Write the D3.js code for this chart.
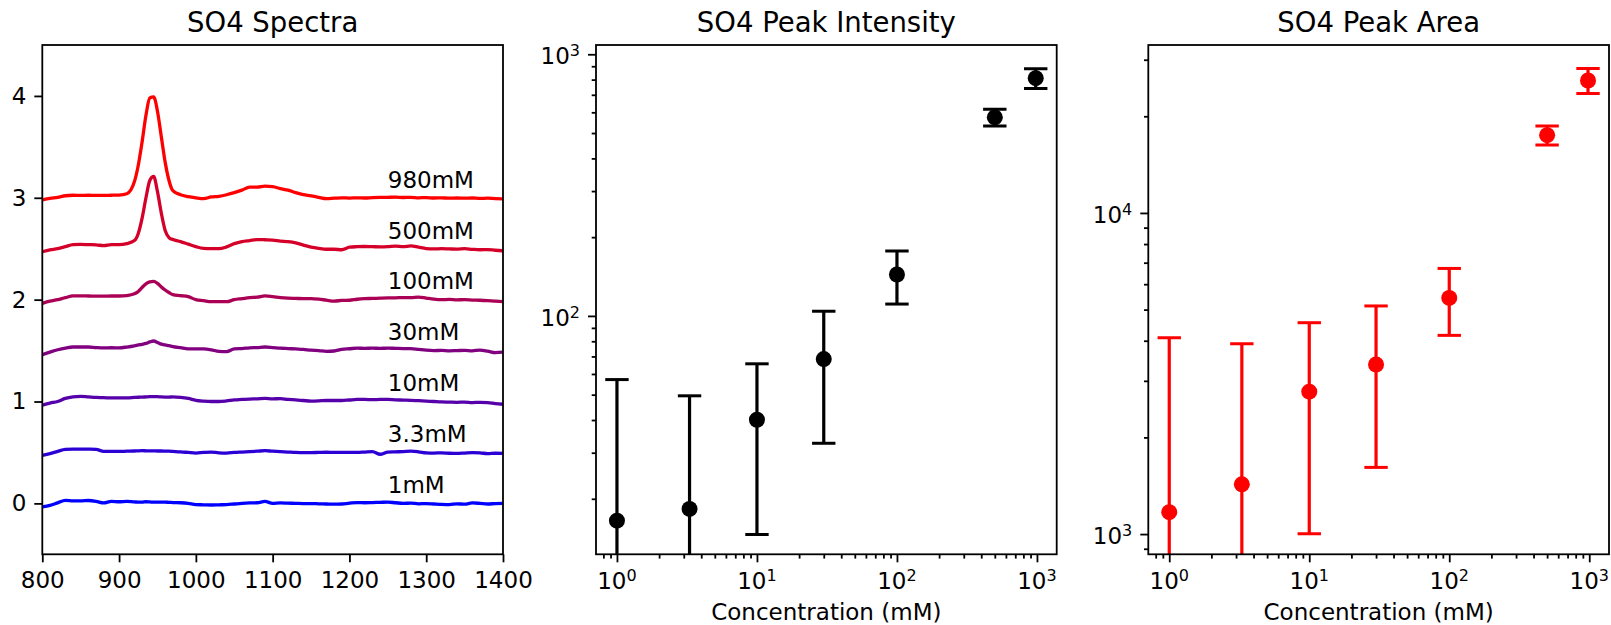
<!DOCTYPE html>
<html>
<head>
<meta charset="utf-8">
<script src="https://cdn.jsdelivr.net/npm/d3@7"></script>
<style>
  body { margin: 0; background: #fff; }
  text { font-family: "DejaVu Sans", sans-serif; fill: #000; }
</style>
</head>
<body>
<script>

// ---- data ----
var wavenumbers = [
  800, 810, 820, 830, 840, 850, 860, 870, 880, 890, 900, 910,
  920, 925, 930, 935, 940, 945, 950, 955, 960, 965, 970,
  980, 990, 1000, 1010, 1020, 1030, 1040, 1050, 1060, 1070, 1080, 1090, 1100, 1110, 1120, 1130, 1140, 1150, 1160, 1170, 1180, 1190,
  1200, 1210, 1220, 1230, 1240, 1250, 1260, 1270, 1280, 1290, 1300, 1310, 1320, 1330, 1340, 1350, 1360, 1370, 1380, 1390, 1400
];

var specLabels = ['1mM', '3.3mM', '10mM', '30mM', '100mM', '500mM', '980mM'];
var specOffsets = [0, 0.5, 1, 1.5, 2, 2.5, 3];

var spec1mM = [
  -0.035, -0.02, 0.005, 0.03, 0.025, 0.024, 0.028, 0.02, 0.004, 0.02, 0.016, 0.02,
  0.014, 0.012, 0.012, 0.016, 0.014, 0.012, 0.012, 0.012, 0.012, 0.01, 0.008,
  0.006, 0.0, -0.012, -0.014, -0.016, -0.014, -0.012, -0.006, 0.0, 0.004, 0.006, 0.02, 0.0, 0.004, 0.002, 0.0, -0.002, -0.002, -0.004, -0.006, -0.008, -0.006,
  0.002, 0.008, 0.006, 0.008, 0.01, 0.012, 0.006, 0.0, 0.002, -0.004, -0.002, -0.006, -0.01, -0.012, -0.004, -0.008, 0.004, 0.0, -0.006, -0.002, 0.0
];
var spec3p3mM = [
  -0.03, -0.012, 0.01, 0.03, 0.033, 0.033, 0.032, 0.03, 0.01, 0.01, 0.01, 0.012,
  0.014, 0.016, 0.017, 0.016, 0.015, 0.015, 0.014, 0.014, 0.013, 0.012, 0.01,
  0.006, 0.0, -0.006, 0.0, 0.004, -0.004, -0.006, 0.0, 0.004, 0.008, 0.012, 0.017, 0.012, 0.008, 0.004, 0.0, -0.002, -0.002, 0.0, 0.002, 0.0, 0.001,
  0.0, 0.0, 0.004, 0.008, -0.018, 0.004, 0.006, 0.008, 0.012, 0.006, -0.004, -0.006, -0.004, -0.008, -0.01, -0.006, -0.002, -0.004, -0.012, -0.008, -0.01
];
var spec10mM = [
  -0.035, -0.015, 0.0, 0.03, 0.045, 0.05, 0.045, 0.04, 0.038, 0.035, 0.035, 0.036,
  0.04, 0.042, 0.043, 0.045, 0.047, 0.047, 0.047, 0.045, 0.044, 0.044, 0.045,
  0.04, 0.03, 0.012, 0.004, 0.0, 0.0, 0.006, 0.016, 0.02, 0.024, 0.026, 0.03, 0.026, 0.028, 0.02, 0.016, 0.01, 0.004, 0.006, 0.01, 0.01, 0.01,
  0.015, 0.02, 0.02, 0.018, 0.02, 0.02, 0.016, 0.014, 0.012, 0.008, 0.004, 0.0, -0.004, -0.006, -0.008, -0.006, -0.01, -0.008, -0.01, -0.02, -0.027
];
var spec30mM = [
  -0.04, -0.015, 0.008, 0.025, 0.035, 0.035, 0.035, 0.03, 0.027, 0.028, 0.027, 0.035,
  0.047, 0.055, 0.062, 0.07, 0.085, 0.094, 0.08, 0.063, 0.055, 0.048, 0.04,
  0.028, 0.016, 0.016, 0.016, 0.008, -0.008, -0.01, 0.016, 0.02, 0.027, 0.03, 0.035, 0.03, 0.024, 0.02, 0.016, 0.012, 0.004, 0.0, -0.008, -0.004, 0.012,
  0.018, 0.024, 0.022, 0.024, 0.022, 0.024, 0.022, 0.02, 0.02, 0.012, 0.004, 0.0, 0.002, -0.002, 0.0, 0.002, -0.002, 0.004, -0.006, -0.02, -0.016
];
var spec100mM = [
  -0.037, -0.015, 0.0, 0.02, 0.037, 0.037, 0.036, 0.035, 0.034, 0.036, 0.036, 0.04,
  0.057, 0.08, 0.12, 0.155, 0.175, 0.18, 0.16, 0.125, 0.095, 0.07, 0.05,
  0.04, 0.03, 0.0, -0.01, -0.02, -0.02, -0.02, 0.0, 0.01, 0.02, 0.025, 0.037, 0.03, 0.02, 0.014, 0.012, 0.01, 0.01, 0.005, -0.005, -0.014, -0.008,
  -0.006, 0.004, 0.01, 0.012, 0.015, 0.017, 0.018, 0.02, 0.02, 0.025, 0.015, 0.005, 0.0, 0.002, -0.002, 0.0, -0.004, -0.006, -0.01, -0.015, -0.02
];
var spec500mM = [
  -0.03, -0.012, 0.0, 0.02, 0.04, 0.042, 0.04, 0.038, 0.03, 0.04, 0.04, 0.05,
  0.08, 0.15, 0.30, 0.50, 0.67, 0.71, 0.56, 0.35, 0.18, 0.11, 0.09,
  0.07, 0.045, 0.02, 0.003, 0.0, 0.0, 0.018, 0.05, 0.07, 0.08, 0.09, 0.088, 0.085, 0.075, 0.07, 0.058, 0.035, 0.015, 0.003, -0.005, -0.005, -0.01,
  0.015, 0.02, 0.022, 0.02, 0.018, 0.02, 0.025, 0.02, 0.028, 0.015, 0.002, -0.002, 0.0, -0.002, -0.004, 0.0, -0.006, -0.01, -0.008, -0.015, -0.02
];
var spec980mM = [
  -0.02, -0.005, 0.005, 0.02, 0.025, 0.024, 0.025, 0.023, 0.024, 0.025, 0.027, 0.04,
  0.16, 0.32, 0.55, 0.81, 0.98, 0.99, 0.85, 0.60, 0.35, 0.17, 0.07,
  0.03, 0.012, 0.0, -0.008, 0.008, 0.015, 0.03, 0.05, 0.075, 0.105, 0.105, 0.115, 0.11, 0.09, 0.075, 0.05, 0.03, 0.02, 0.005, -0.008, -0.004, 0.0,
  -0.003, 0.0, -0.002, 0.002, 0.004, 0.005, 0.006, 0.003, 0.004, 0.0, 0.002, -0.002, 0.0, -0.004, -0.002, -0.004, -0.002, -0.006, -0.004, -0.008, -0.01
];
var spectra = [spec1mM, spec3p3mM, spec10mM, spec30mM, spec100mM, spec500mM, spec980mM];

var concentrations = [1, 3.3, 10, 30, 100, 500, 980];
var peakIntensity = [16.5, 18.3, 40.1, 68.4, 144, 574, 810];
var peakIntensityErr = [40.6, 31.2, 25.5, 35.8, 33, 42, 70];
var peakArea = [1170, 1429, 2777, 3373, 5437, 17470, 25850];
var peakAreaErr = [2914, 2484, 1775, 1760, 1280, 1180, 2300];

var specXTicks = [800, 900, 1000, 1100, 1200, 1300, 1400];
var specYTicks = [0, 1, 2, 3, 4];
var titles = ['SO4 Spectra', 'SO4 Peak Intensity', 'SO4 Peak Area'];
var xLabel = 'Concentration (mM)';

// ---- layout ----
var svgWidth = 1611, svgHeight = 625;
var plotTop = 45, plotW = 460.7, plotH = 509.3;
var panelLeft = [42.3, 596, 1148.3];
var tickLen = 8, minorLen = 4.3, spineW = 1.8;

var svg = d3.select('body').append('svg')
  .attr('width', svgWidth)
  .attr('height', svgHeight)

svg.append('rect').attr('width', svgWidth).attr('height', svgHeight).attr('fill', 'white')

function makePanel(i) {
  var g = svg.append('g').attr('transform', `translate(${panelLeft[i]},${plotTop})`)
  g.append('clipPath').attr('id', 'clip' + i)
    .append('rect').attr('width', plotW).attr('height', plotH)
  svg.append('text')
    .attr('x', panelLeft[i] + plotW / 2)
    .attr('y', 31.5)
    .attr('text-anchor', 'middle')
    .style('font-size', '27.5px')
    .text(titles[i])
  return g;
}

function styleAxis(ax) {
  ax.select('.domain').remove()
  ax.selectAll('line').attr('stroke', '#000').attr('stroke-width', spineW)
  ax.selectAll('text').style('font-size', '23px').attr('fill', '#000')
    .style('font-family', '"DejaVu Sans", sans-serif')
}

function frame(g) {
  g.append('rect').attr('width', plotW).attr('height', plotH)
    .attr('fill', 'none').attr('stroke', '#000').attr('stroke-width', spineW)
}

function specColor(i) {
  var t = i / (spectra.length - 1);
  return d3.rgb(Math.round(255 * t), 0, Math.round(255 * (1 - t)));
}

// ---- panel 1: stacked spectra ----
var g1 = makePanel(0);
var xSpec = d3.scaleLinear().domain([800, 1400]).range([0, plotW]);
var ySpec = d3.scaleLinear().domain([-0.5, 4.5]).range([plotH, 0]);

var lines = g1.append('g').attr('clip-path', 'url(#clip0)')
spectra.forEach(function(s, k) {
  var line = d3.line()
    .x((d, i) => xSpec(wavenumbers[i]))
    .y(d => ySpec(d + specOffsets[k]))
    .curve(d3.curveMonotoneX)
  lines.append('path')
    .datum(s)
    .attr('d', line)
    .attr('fill', 'none')
    .attr('stroke', specColor(k))
    .attr('stroke-width', 3.3)
    .attr('stroke-linejoin', 'round')
})

g1.selectAll('.speclabel').data(specLabels).enter().append('text')
  .attr('class', 'speclabel')
  .attr('x', xSpec(1250))
  .attr('y', (d, i) => ySpec(specOffsets[i] + 0.1))
  .style('font-size', '23px')
  .text(d => d)

var ax1y = g1.append('g').call(d3.axisLeft(ySpec).tickValues(specYTicks).tickSize(tickLen).tickPadding(8).tickFormat(d3.format('d')))
styleAxis(ax1y)
var ax1x = g1.append('g').attr('transform', `translate(0,${plotH})`)
  .call(d3.axisBottom(xSpec).tickValues(specXTicks).tickSize(tickLen).tickPadding(9.5).tickFormat(d3.format('d')))
styleAxis(ax1x)
frame(g1)

// ---- log panels ----
function isDecade(v) {
  var l = Math.log10(v);
  return Math.abs(l - Math.round(l)) < 1e-6;
}

function logPanel(i, yDomain, values, errs, color) {
  var g = makePanel(i);
  var x = d3.scaleLog().domain([0.7085, 1383.7]).range([0, plotW]);
  var y = d3.scaleLog().domain(yDomain).range([plotH, 0]);

  var marks = g.append('g').attr('clip-path', `url(#clip${i})`)
  var capW = 11.7;
  concentrations.forEach(function(c, k) {
    var hi = values[k] + errs[k], lo = values[k] - errs[k];
    var yLo = lo > 0 ? y(lo) : plotH + 10;
    marks.append('line')
      .attr('x1', x(c)).attr('x2', x(c))
      .attr('y1', y(hi)).attr('y2', yLo)
      .attr('stroke', color).attr('stroke-width', 3.2)
    marks.append('line')
      .attr('x1', x(c) - capW).attr('x2', x(c) + capW)
      .attr('y1', y(hi)).attr('y2', y(hi))
      .attr('stroke', color).attr('stroke-width', 3)
    if (lo > 0) {
      marks.append('line')
        .attr('x1', x(c) - capW).attr('x2', x(c) + capW)
        .attr('y1', yLo).attr('y2', yLo)
        .attr('stroke', color).attr('stroke-width', 3)
    }
  })
  marks.selectAll('.dot').data(values).enter().append('circle')
    .attr('class', 'dot')
    .attr('cx', (d, k) => x(concentrations[k]))
    .attr('cy', d => y(d))
    .attr('r', 8)
    .attr('fill', color)

  // ticks
  var xMajor = x.ticks().filter(isDecade), xMinor = x.ticks().filter(v => !isDecade(v));
  var yMajor = y.ticks().filter(isDecade), yMinor = y.ticks().filter(v => !isDecade(v));

  var axx = g.append('g').attr('transform', `translate(0,${plotH})`)
    .call(d3.axisBottom(x).tickValues(xMajor).tickSize(tickLen).tickFormat(''))
  axx.append('g').call(d3.axisBottom(x).tickValues(xMinor).tickSize(minorLen).tickFormat(''))
  styleAxis(axx)
  axx.selectAll('.domain').remove()

  var axy = g.append('g')
    .call(d3.axisLeft(y).tickValues(yMajor).tickSize(tickLen).tickFormat(''))
  axy.append('g').call(d3.axisLeft(y).tickValues(yMinor).tickSize(minorLen).tickFormat(''))
  styleAxis(axy)
  axy.selectAll('.domain').remove()

  xMajor.forEach(function(v) {
    var t = g.append('text')
      .attr('x', x(v)).attr('y', plotH + 35)
      .attr('text-anchor', 'middle')
      .style('font-size', '23px')
    t.append('tspan').text('10')
    t.append('tspan').attr('dy', -8).style('font-size', '16px').text(Math.round(Math.log10(v)))
  })
  yMajor.forEach(function(v) {
    var t = g.append('text')
      .attr('x', -16).attr('y', y(v) + 10)
      .attr('text-anchor', 'end')
      .style('font-size', '23px')
    t.append('tspan').text('10')
    t.append('tspan').attr('dy', -8).style('font-size', '16px').text(Math.round(Math.log10(v)))
  })

  g.append('text')
    .attr('x', plotW / 2).attr('y', 620 - plotTop)
    .attr('text-anchor', 'middle')
    .style('font-size', '23px')
    .text(xLabel)

  frame(g)
}

logPanel(1, [12.27, 1085], peakIntensity, peakIntensityErr, '#000')
logPanel(2, [865, 33340], peakArea, peakAreaErr, '#ff0000')

</script>
</body>
</html>
